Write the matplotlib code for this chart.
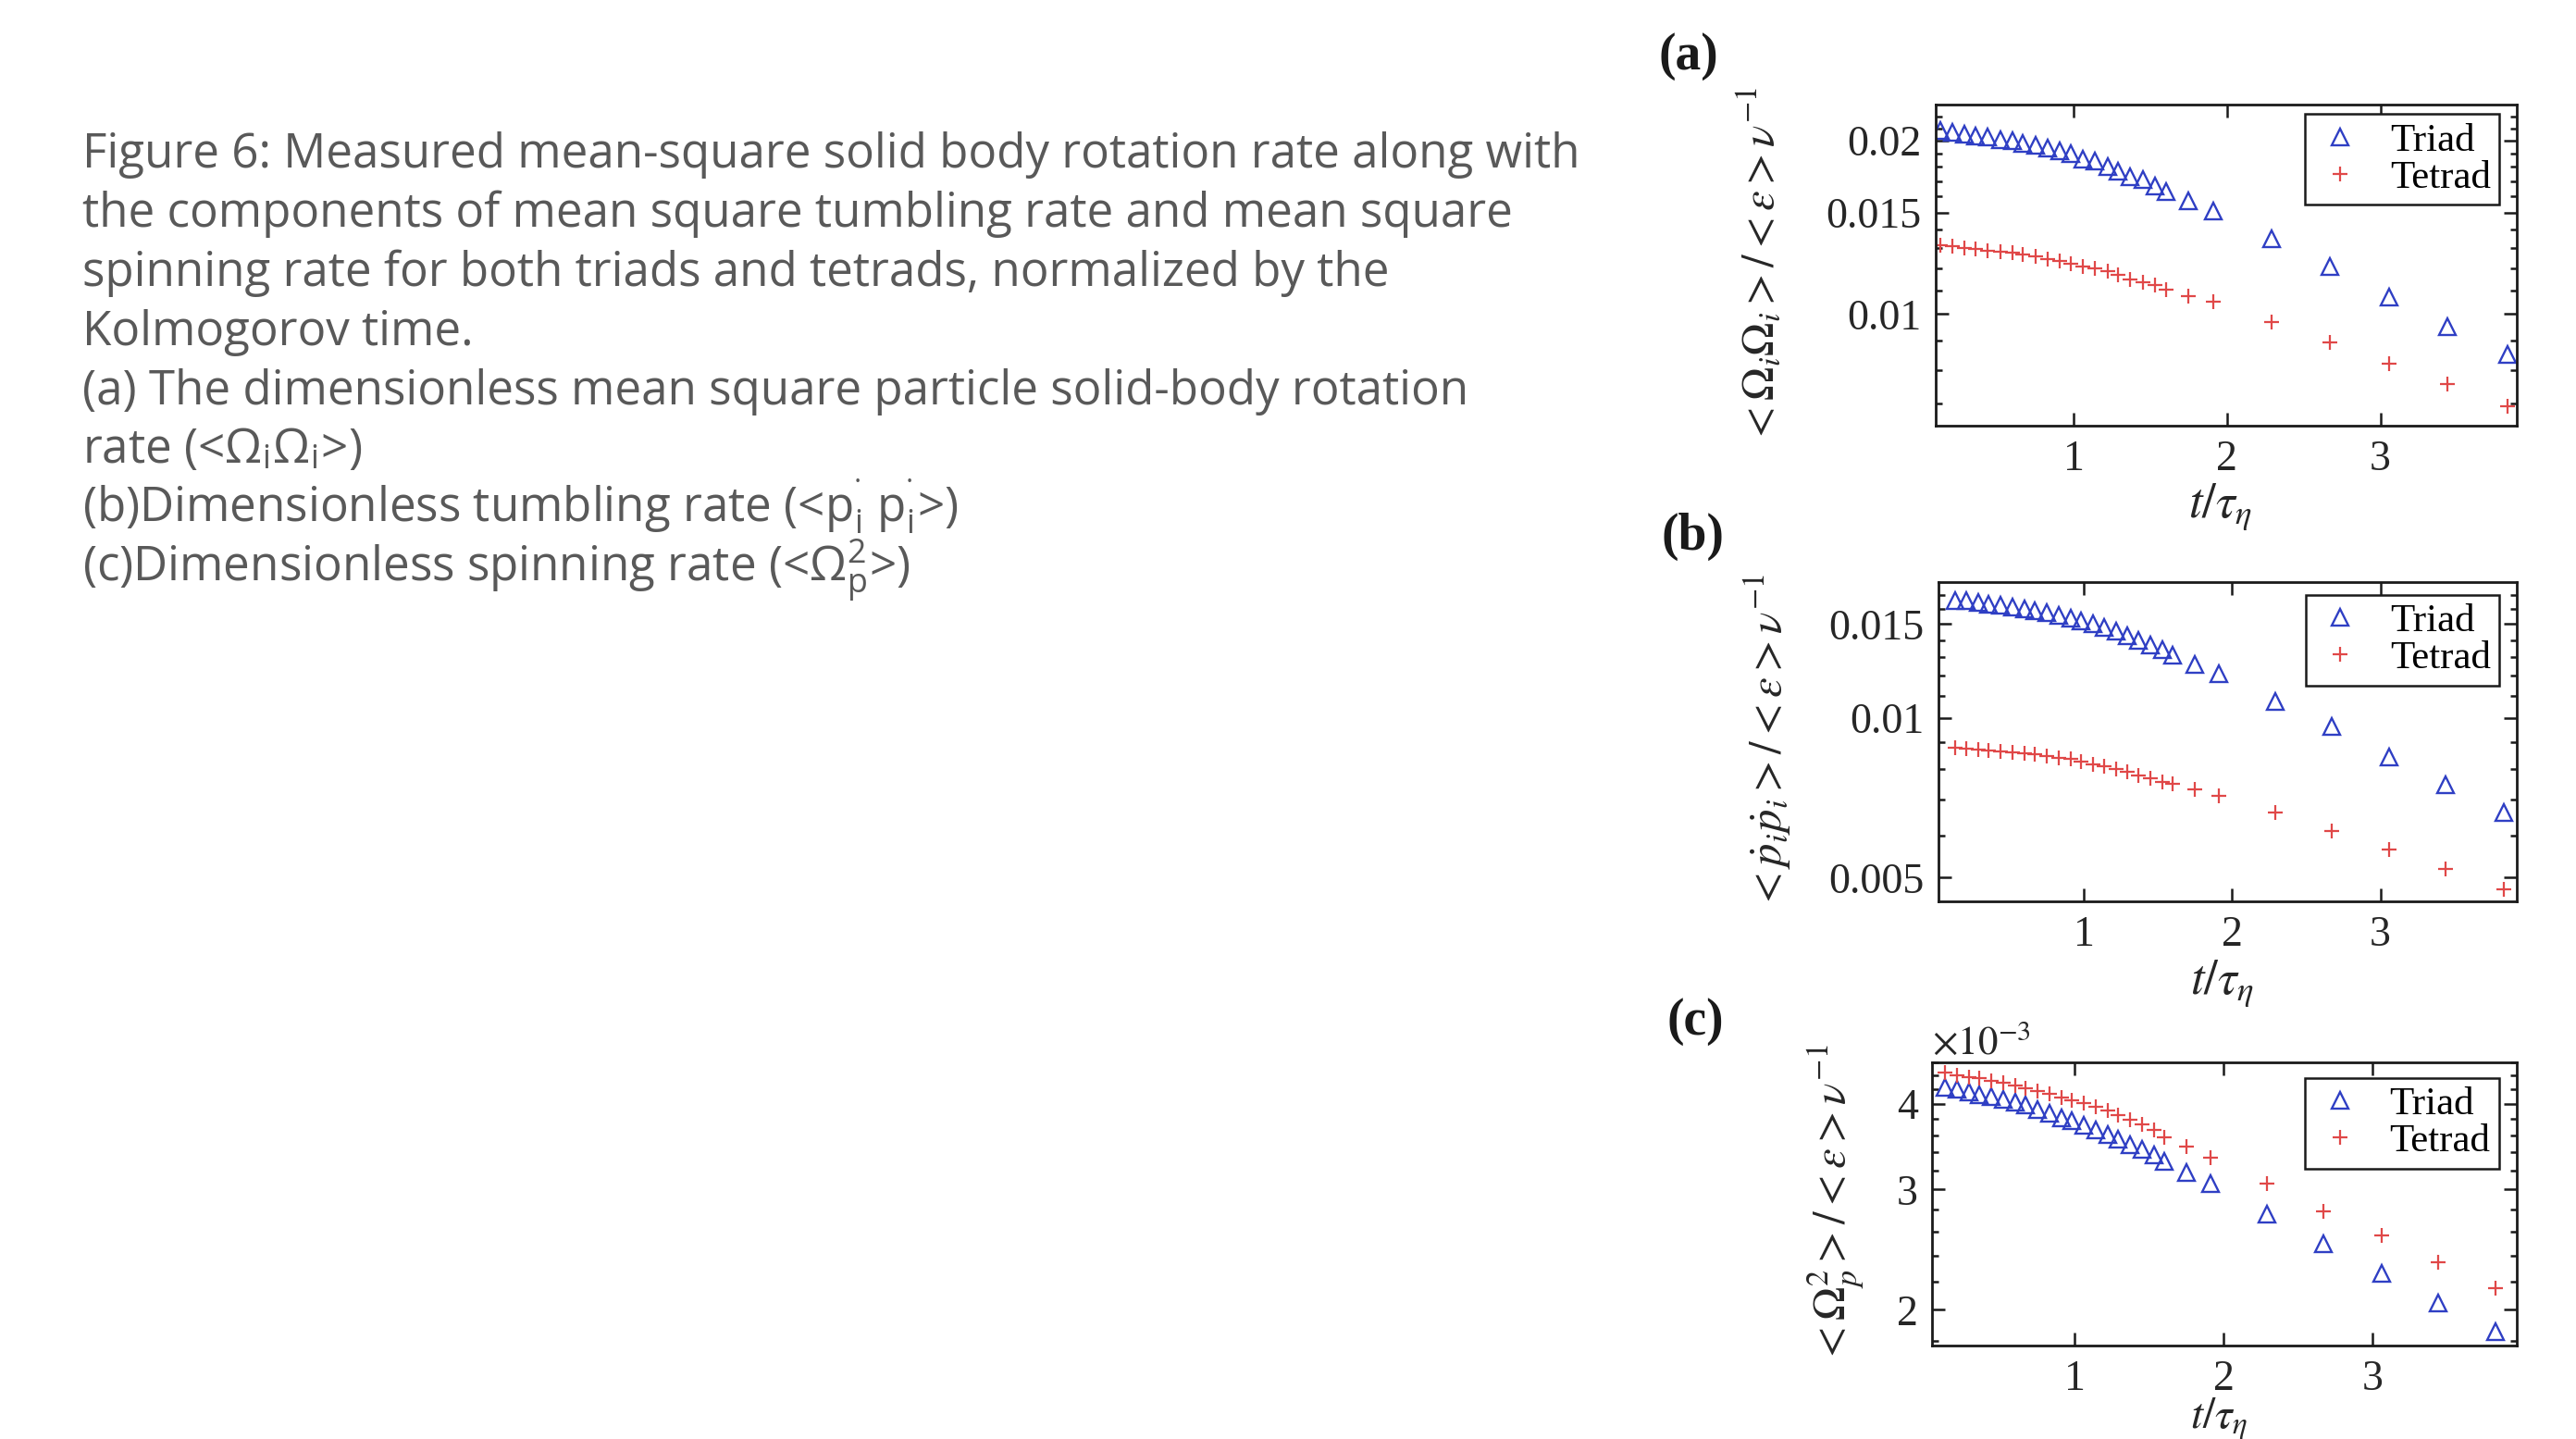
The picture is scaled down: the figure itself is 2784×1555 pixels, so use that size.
import numpy as np
import matplotlib
matplotlib.use("Agg")
import matplotlib.pyplot as plt
from matplotlib.ticker import FixedLocator, FixedFormatter, NullFormatter, NullLocator

W, H = 2784, 1555
DPI = 100

plt.rcParams["font.family"] = ["Liberation Serif", "DejaVu Serif"]
plt.rcParams["mathtext.fontset"] = "stix"

# t / tau_eta (same sampling in all three panels)
t = [0.13, 0.21, 0.29, 0.36, 0.44, 0.52, 0.60, 0.67, 0.75, 0.83,
     0.91, 0.98, 1.06, 1.14, 1.22, 1.29, 1.37, 1.45, 1.53, 1.60,
     1.75, 1.91, 2.29, 2.67, 3.06, 3.44, 3.83]

# (a) <Omega_i Omega_i> / <eps> nu^-1
rot_triad = [0.0208, 0.0207, 0.0205, 0.0204, 0.0203, 0.0201, 0.0200, 0.0198, 0.0196, 0.0194,
             0.0192, 0.0190, 0.0186, 0.0184, 0.0180, 0.0177, 0.0173, 0.0171, 0.0167, 0.0163,
             0.0157, 0.0151, 0.0135, 0.0121, 0.0107, 0.0095, 0.0085]
rot_tetrad = [0.01315, 0.01310, 0.01303, 0.01297, 0.01290, 0.01282, 0.01277, 0.01268, 0.01258, 0.01247,
              0.01238, 0.01223, 0.01211, 0.01199, 0.01185, 0.01168, 0.01150, 0.01136, 0.01121, 0.01104,
              0.01075, 0.01050, 0.00969, 0.00892, 0.00821, 0.00756, 0.00692]

# (b) <p_dot_i p_dot_i> / <eps> nu^-1
tumb_triad = [0.01663, 0.01659, 0.01648, 0.01636, 0.01625, 0.01614, 0.01603, 0.01589, 0.01574, 0.01559,
              0.01542, 0.01521, 0.01500, 0.01479, 0.01455, 0.01429, 0.01400, 0.01371, 0.01343, 0.01310,
              0.01262, 0.01208, 0.01074, 0.00962, 0.00843, 0.00748, 0.00663]
tumb_tetrad = [0.00878, 0.00876, 0.00872, 0.00869, 0.00864, 0.00860, 0.00856, 0.00852, 0.00846, 0.00841,
               0.00835, 0.00827, 0.00818, 0.00809, 0.00801, 0.00790, 0.00779, 0.00768, 0.00758, 0.00750,
               0.00732, 0.00712, 0.00662, 0.00612, 0.00565, 0.00520, 0.00476]

# (c) <Omega_p^2> / <eps> nu^-1, in units of 1e-3
spin_triad = [4.23, 4.20, 4.17, 4.13, 4.10, 4.06, 4.02, 3.98, 3.92, 3.88,
              3.82, 3.78, 3.72, 3.67, 3.61, 3.55, 3.49, 3.43, 3.37, 3.30,
              3.18, 3.06, 2.76, 2.50, 2.26, 2.05, 1.86]
spin_tetrad = [4.44, 4.41, 4.38, 4.36, 4.32, 4.29, 4.26, 4.22, 4.18, 4.14,
               4.09, 4.05, 4.01, 3.96, 3.91, 3.85, 3.79, 3.73, 3.67, 3.58,
               3.46, 3.34, 3.06, 2.79, 2.57, 2.35, 2.15]

caption = [
    "Figure 6: Measured mean-square solid body rotation rate along with",
    "the components of mean square tumbling rate and mean square",
    "spinning rate for both triads and tetrads, normalized by the",
    "Kolmogorov time.",
    "(a) The dimensionless mean square particle solid-body rotation",
    r"rate (<Ω$_\mathregular{i}$Ω$_\mathregular{i}$>)",
    r"(b)Dimensionless tumbling rate (<p$^\mathregular{˙}_\mathregular{i}$ p$^\mathregular{˙}_\mathregular{i}$>)",
    r"(c)Dimensionless spinning rate (<Ω$^\mathregular{2}_\mathregular{p}$>)",
]

BLUE = "#2f3fc4"
RED = "#e04848"
INK = "#262626"

panels = [
    dict(tag="(a)", tag_xy=(1825, 61), box=(2092, 113, 2720, 460),
         triad=rot_triad, tetrad=rot_tetrad,
         xlim=(0.10, 3.89), ylim=(0.0064, 0.0231),
         yticks=[0.01, 0.015, 0.02], ylabels=["0.01", "0.015", "0.02"],
         yminor=np.arange(0.007, 0.0225, 0.001),
         ylabel=r"$<\Omega_i\Omega_i>/<\varepsilon>\nu^{-1}$",
         ylab_x=-0.262, xlab_y=-0.173, xlab_size=38, leg=(0.97, 0.97)),
    dict(tag="(b)", tag_xy=(1830, 580), box=(2095, 629, 2720, 974),
         triad=tumb_triad, tetrad=tumb_tetrad,
         xlim=(0.02, 3.92), ylim=(0.00451, 0.0180),
         yticks=[0.005, 0.01, 0.015], ylabels=["0.005", "0.01", "0.015"],
         yminor=np.arange(0.005, 0.0175, 0.001),
         ylabel=r"$<\dot{p}_i\dot{p}_i>/<\varepsilon>\nu^{-1}$",
         ylab_x=-0.252, xlab_y=-0.177, xlab_size=38, leg=(0.97, 0.96)),
    dict(tag="(c)", tag_xy=(1832, 1104), box=(2088, 1148, 2720, 1454),
         triad=spin_triad, tetrad=spin_tetrad,
         xlim=(0.04, 3.97), ylim=(1.774, 4.60),
         yticks=[2, 3, 4], ylabels=["2", "3", "4"],
         yminor=np.arange(1.8, 4.61, 0.2),
         ylabel=r"$<\Omega_p^2>/<\varepsilon>\nu^{-1}$",
         ylab_x=-0.112, xlab_y=-0.180, xlab_size=34, leg=(0.97, 0.945)),
]

fig = plt.figure(figsize=(W / DPI, H / DPI), dpi=DPI)

for p in panels:
    x0, y0, x1, y1 = p["box"]
    ax = fig.add_axes([x0 / W, 1 - y1 / H, (x1 - x0) / W, (y1 - y0) / H])
    ax.plot(t, p["triad"], linestyle="none", marker="^", ms=13, mfc="none",
            mec=BLUE, mew=1.7, label="Triad")
    ax.plot(t, p["tetrad"], linestyle="none", marker="+", ms=11,
            mec=RED, mew=1.6, label="Tetrad")
    ax.set_yscale("log")
    ax.set_xlim(*p["xlim"])
    ax.set_ylim(*p["ylim"])

    ax.xaxis.set_major_locator(FixedLocator([1, 2, 3]))
    ax.xaxis.set_major_formatter(FixedFormatter(["1", "2", "3"]))
    ax.xaxis.set_minor_locator(NullLocator())
    ax.yaxis.set_major_locator(FixedLocator(p["yticks"]))
    ax.yaxis.set_major_formatter(FixedFormatter(p["ylabels"]))
    ax.yaxis.set_minor_locator(FixedLocator(p["yminor"]))
    ax.yaxis.set_minor_formatter(NullFormatter())

    ax.tick_params(which="both", direction="in", top=True, right=True,
                   width=1.8, color="#1a1a1a", labelcolor=INK, labelsize=33)
    ax.tick_params(which="major", length=10)
    ax.tick_params(which="minor", length=5)
    ax.tick_params(axis="y", pad=11)
    ax.tick_params(axis="x", pad=11)
    for s in ax.spines.values():
        s.set_linewidth(2.0)
        s.set_color("#1a1a1a")

    ax.set_ylabel(p["ylabel"], fontsize=35, color=INK)
    ax.yaxis.set_label_coords(p["ylab_x"], 0.5)
    ax.set_xlabel(r"$t/\tau_\eta$", fontsize=p["xlab_size"], color=INK)
    ax.xaxis.set_label_coords(0.49, p["xlab_y"])

    leg = ax.legend(loc="upper right", bbox_to_anchor=p["leg"], fontsize=31,
                    frameon=True, fancybox=False, framealpha=1, edgecolor="#1a1a1a",
                    borderpad=0.22, labelspacing=0.02, handletextpad=0.6,
                    handlelength=1.3, borderaxespad=0)
    leg.get_frame().set_linewidth(1.8)

    tx, ty = p["tag_xy"]
    fig.text(tx / W, 1 - ty / H, p["tag"], fontsize=40, fontweight="bold",
             ha="center", va="center", color="#1a1a1a")

    if p["tag"] == "(c)":
        ax.text(0.0, 1.0, r"$\times10^{-3}$", transform=ax.transAxes,
                fontsize=31, color=INK, ha="left", va="bottom")

# caption block on the left
for i, line in enumerate(caption):
    fig.text(89 / W, 1 - (181 + i * 63.9) / H, line, fontsize=36.8,
             family="Open Sans", color="#595959", ha="left", va="baseline")

fig.savefig("out.png", dpi=DPI)
